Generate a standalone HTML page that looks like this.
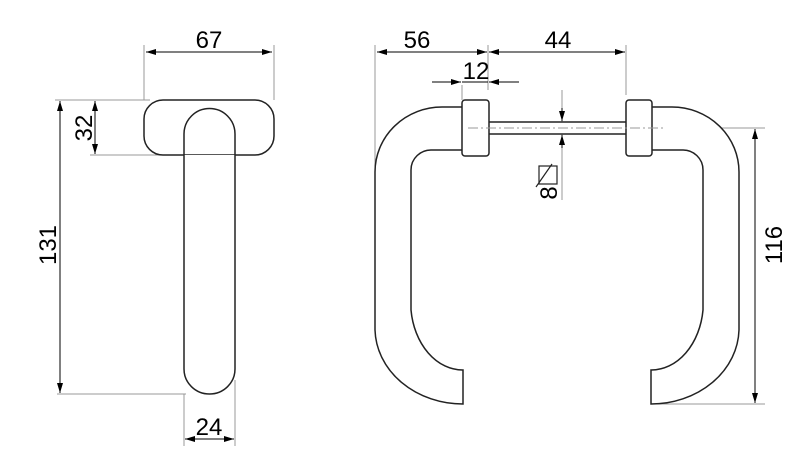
<!DOCTYPE html><html><head><style>body{margin:0;background:#fff}svg{display:block}</style></head><body>
<svg width="800" height="463" viewBox="0 0 800 463" xmlns="http://www.w3.org/2000/svg" font-family="Liberation Sans, sans-serif">
<defs><marker id="a" viewBox="0 0 10 6" refX="10" refY="3" markerWidth="15" markerHeight="6" markerUnits="userSpaceOnUse" orient="auto-start-reverse"><path d="M0,0L10,3L0,6z" fill="#000"/></marker></defs>
<g stroke="#999" stroke-width="1" fill="none">
<line x1="144" y1="45" x2="144" y2="100"/><line x1="274" y1="45" x2="274" y2="100"/>
<line x1="55" y1="100" x2="150" y2="100"/><line x1="90" y1="155" x2="160" y2="155"/>
<line x1="57" y1="394" x2="186" y2="394"/>
<line x1="184" y1="394" x2="184" y2="446"/><line x1="235" y1="380" x2="235" y2="446"/>
<line x1="375" y1="45" x2="375" y2="170"/><line x1="488" y1="45" x2="488" y2="90"/><line x1="626" y1="45" x2="626" y2="95"/>
<line x1="462" y1="85" x2="462" y2="100"/>
<line x1="650" y1="128" x2="765" y2="128"/><line x1="651" y1="404" x2="765" y2="404"/>
<line x1="562" y1="90" x2="562" y2="122"/><line x1="562" y1="134" x2="562" y2="200"/>
</g>
<g stroke="#000" stroke-width="1" fill="none">
<line x1="146" y1="52" x2="272" y2="52" marker-start="url(#a)" marker-end="url(#a)"/>
<line x1="95" y1="101" x2="95" y2="154" marker-start="url(#a)" marker-end="url(#a)"/>
<line x1="60" y1="101" x2="60" y2="393" marker-start="url(#a)" marker-end="url(#a)"/>
<line x1="185" y1="439" x2="234" y2="439" marker-start="url(#a)" marker-end="url(#a)"/>
<line x1="377" y1="52" x2="487" y2="52" marker-start="url(#a)" marker-end="url(#a)"/>
<line x1="489" y1="52" x2="625" y2="52" marker-start="url(#a)" marker-end="url(#a)"/>
<line x1="432" y1="82" x2="461" y2="82" marker-end="url(#a)"/>
<line x1="519" y1="82" x2="489" y2="82" marker-end="url(#a)"/>
<line x1="462" y1="82" x2="488" y2="82"/>
<line x1="755" y1="129" x2="755" y2="403" marker-start="url(#a)" marker-end="url(#a)"/>
<line x1="562" y1="108" x2="562" y2="121" marker-end="url(#a)"/>
<line x1="562" y1="148" x2="562" y2="135" marker-end="url(#a)"/>
</g>
<g stroke="#222" stroke-width="1.5" fill="#fff">
<rect x="144" y="100" width="130" height="55" rx="19"/>
<path d="M184,155 L184,134 A25.5,25.5 0 0 1 235,134 L235,155" fill="none"/>
<path d="M184,155 L184,369 A25.5,25 0 0 0 235,369 L235,155"/>
<path d="M462,107 L442,107 A67,65 0 0 0 375,172 L375,330 A88,76 0 0 0 463,404 L463,370 A52,68 0 0 1 411,310 L411,170 A20,20 0 0 1 432,150 L462,150" />
<path d="M652,107 L672,107 A67,65 0 0 1 739,172 L739,330 A88,76 0 0 1 651,404 L651,370 A52,68 0 0 0 703,310 L703,170 A20,20 0 0 0 682,150 L652,150" />
<rect x="462" y="100" width="27" height="56" rx="3"/>
<rect x="626" y="100" width="26" height="56" rx="3"/>
<line x1="489" y1="122" x2="626" y2="122"/><line x1="489" y1="134" x2="626" y2="134"/>
</g>
<line x1="468" y1="128" x2="665" y2="128" stroke="#999" stroke-dasharray="10,3,2,3"/>
<g stroke="#222" stroke-width="1.2" fill="none"><rect x="539" y="166" width="18" height="18"/><line x1="536" y1="187" x2="552" y2="164"/></g>
<g font-size="24" fill="#000" text-anchor="middle">
<text x="209" y="48">67</text>
<text x="417" y="48">56</text>
<text x="558" y="48">44</text>
<text x="476" y="79">12</text>
<text x="209" y="435">24</text>
<text transform="translate(92,128) rotate(-90)">32</text>
<text transform="translate(56,245) rotate(-90)">131</text>
<text transform="translate(782,245) rotate(-90)">116</text>
<text transform="translate(557,193) rotate(-90)">8</text>
</g>
</svg></body></html>
